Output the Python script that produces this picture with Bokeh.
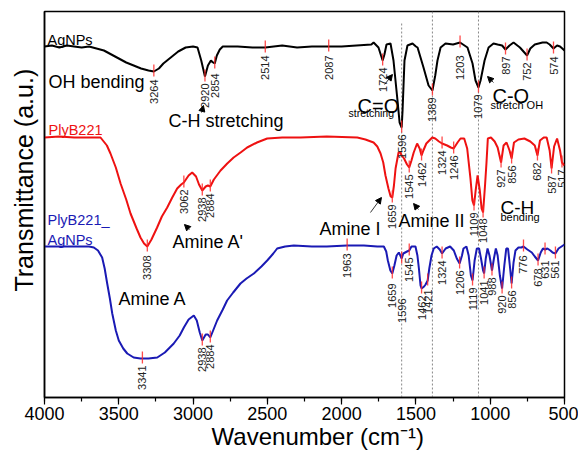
import numpy as np
from math import pi
from bokeh.plotting import figure
from bokeh.models import Range1d, SingleIntervalTicker, FixedTicker, Arrow, NormalHead, ColumnDataSource
from bokeh.core.properties import value
from bokeh.embed import file_html
from bokeh.resources import INLINE

FONT = "Liberation Sans"

# ---------------- data (transmittance, arbitrary units, offset traces) ----------------
agnps_wn = [4000,3950,3900,3850,3800,3750,3700,3650,3600,3550,
            3500,3450,3400,3350,3300,3264,3230,3200,3150,3100,
            3050,3000,2970,2945,2920,2900,2880,2865,2854,2840,
            2820,2800,2700,2600,2514,2400,2300,2200,2087,2000,
            1900,1800,1785,1752,1735,1724,1712,1698,1671,1651,
            1624,1610,1596,1590,1577,1557,1523,1500,1489,1449,
            1415,1389,1370,1355,1334,1301,1250,1203,1153,1119,
            1099,1079,1065,1038,1011,978,950,920,897,870,
            843,800,770,752,730,700,648,620,600,574,
            550,530,500]
agnps_t = [351,352,350,352,351,350,351,349,347,343,
           339,335,332,329,327,326,329,334,340,346,
           350,351,350,337,321,332,337,335,334,342,
           348,351,351,350,350,352,350,351,351,351,
           352,353,355,350,342,337,343,353,354,337,
           297,275,270,287,337,352,354,351,350,330,
           312,307,322,337,350,354,353,355,350,334,
           317,310,317,337,350,354,353,352,348,352,
           355,350,345,342,349,353,355,355,353,349,
           352,351,347]

ply_wn = [4000,3900,3800,3700,3623,3580,3556,3520,3488,3450,
          3421,3380,3354,3330,3308,3280,3242,3210,3174,3140,
          3107,3080,3062,3030,3006,2980,2960,2938,2915,2900,
          2884,2860,2815,2770,2727,2680,2636,2570,2501,2400,
          2277,2100,1895,1840,1785,1760,1738,1720,1705,1685,
          1670,1659,1648,1637,1617,1605,1596,1580,1560,1545,
          1530,1515,1492,1475,1462,1450,1430,1390,1370,1345,
          1324,1290,1265,1246,1220,1200,1175,1155,1133,1120,
          1109,1098,1085,1070,1058,1048,1035,1025,1016,995,
          970,950,927,910,890,870,856,840,810,770,
          730,700,682,665,640,620,600,587,570,550,
          530,517,500]
ply_t = [260,261,260,260,260,252,244,230,214,198,
         184,169,160,154,151,158,170,181,190,200,
         209,213,215,222,225,221,213,207,211,212,
         211,218,227,234,240,245,250,255,259,260,
         260,261,260,258,255,251,244,235,222,209,
         201,200,212,229,245,245,242,239,233,230,
         237,245,254,249,242,247,254,260,259,256,
         254,252,250,249,255,259,259,249,219,197,
         192,207,222,207,189,185,212,235,259,260,
         256,250,235,252,255,247,239,255,258,259,
         256,252,242,257,260,260,247,229,251,259,
         247,235,232]

plyag_wn = [4000,3900,3800,3700,3668,3640,3612,3595,3578,3560,
            3544,3520,3500,3470,3443,3400,3354,3341,3300,3241,
            3190,3130,3090,3062,3030,2995,2975,2955,2938,2915,
            2900,2884,2865,2838,2800,2771,2730,2681,2640,2591,
            2540,2501,2460,2434,2380,2322,2200,2100,1963,1850,
            1760,1716,1700,1689,1672,1659,1645,1630,1615,1605,
            1596,1585,1560,1545,1530,1503,1490,1480,1469,1462,
            1445,1435,1421,1410,1395,1380,1360,1340,1324,1300,
            1270,1245,1225,1206,1190,1180,1160,1145,1130,1119,
            1105,1090,1075,1062,1048,1041,1030,1018,1005,988,
            975,962,950,935,920,905,892,880,868,856,
            843,830,810,790,776,750,720,700,678,660,
            645,631,615,595,580,561,540,520,500]
plyag_t = [151,151,151,151,150,147,140,129,114,99,
           84,67,57,49,44,40,39,39,39,40,
           45,54,62,70,78,82,77,65,57,63,
           63,60,67,77,88,97,105,114,119,124,
           131,137,144,149,151,152,151,151,152,152,
           151,151,146,137,127,124,132,142,145,142,
           139,144,146,147,151,151,142,129,112,109,
           111,113,117,129,142,149,151,148,144,149,
           151,147,139,134,142,149,151,142,122,117,
           137,149,149,139,127,124,139,149,142,127,
           139,149,142,122,109,132,149,149,132,114,
           135,147,150,150,151,148,145,141,137,145,
           149,148,149,147,145,144,149,151,153]

# peak positions (cm-1) and where each peak's label ends (a.u.)
agnps_peaks = [3264,2920,2854,2514,2087,1724,1596,1389,1203,1079,897,752,574]
agnps_label_end = [318,314,324,342,342,330,263,300,342,303,341,335,341]
ply_peaks = [3308,3062,2938,2884,1659,1545,1462,1324,1246,1109,1048,927,856,682,587,517]
ply_label_end = [142,208,200,204,193,223,235,247,242,185,179,228,232,235,222,228]
plyag_peaks = [3341,2938,2884,1963,1659,1596,1545,1462,1421,1324,1206,1119,1041,988,920,856,776,678,631,561]
plyag_label_end = [32,50,53,144,114,99,140,102,108,137,127,110,117,120,102,107,142,129,137,137]

ref_lines_wn = [1596, 1389, 1079]
ref_lines_top = [374, 386, 386]

# band annotations
note_text = ["AgNPs", "OH bending", "C-H stretching", "C=O", "stretching", "C-O", "stretch OH",
             "PlyB221", "PlyB221_", "AgNPs", "Amine A'", "Amine A", "Amine I", "Amine II",
             "C-H", "bending"]
note_wn = [3980, 3973, 3165, 1893, 1954, 985, 998, 3973, 3980, 3980, 3138, 3502, 2149, 1617, 931, 931]
note_y = [358, 316, 277, 292, 285, 302, 293, 268, 178, 158, 156, 99, 169, 177, 190, 181]
note_size = ["14.5px", "18px", "18px", "20px", "10.5px", "20px", "11px", "14.5px", "14.5px", "14.5px",
             "18px", "18px", "18px", "18px", "19px", "11px"]
note_color = ["black", "black", "black", "black", "black", "black", "black", "#ee1111", "#1a1ab4", "#1a1ab4",
              "black", "black", "black", "black", "black", "black"]

# arrows: (x_start, y_start, x_end, y_end)
arrows = [(1711, 313, 1658, 323), (978, 315, 1018, 321), (3024, 168, 3058, 173),
          (1806, 185, 1732, 200), (1483, 188, 1516, 194), (2943, 285, 2930, 292)]

NBSP = "\u00a0"

# ---------------- figure ----------------
p = figure(width=578, height=454, x_range=Range1d(4000, 500), y_range=Range1d(0, 386),
           output_backend="svg", toolbar_location=None,
           min_border_left=44, min_border_right=14, min_border_top=11, min_border_bottom=57)
p.background_fill_color = "white"
p.border_fill_color = "white"
p.outline_line_color = "black"
p.outline_line_width = 1.5
p.outline_line_alpha = 1.0
p.grid.visible = False

xa = p.xaxis[0]
xa.ticker = SingleIntervalTicker(interval=500, num_minor_ticks=2)
xa.axis_line_width = 1.5
xa.axis_line_color = "black"
xa.major_tick_in = 0
xa.major_tick_out = 7
xa.minor_tick_in = 0
xa.minor_tick_out = 4
xa.major_tick_line_width = 1.2
xa.minor_tick_line_width = 1.2
xa.major_label_text_font = FONT
xa.major_label_text_font_size = "18px"
xa.major_label_text_color = "black"
xa.major_label_standoff = 2
xa.axis_label = NBSP * 4 + "Wavenumber (cm\u207b\u00b9)"
xa.axis_label_text_font = FONT
xa.axis_label_text_font_size = "24px"
xa.axis_label_text_font_style = "normal"
xa.axis_label_text_color = "black"
xa.axis_label_standoff = 0

ya = p.yaxis[0]
ya.ticker = FixedTicker(ticks=[])
ya.major_tick_line_color = None
ya.minor_tick_line_color = None
ya.major_label_text_font_size = "0px"
ya.axis_line_color = "black"
ya.axis_line_width = 1.5
ya.axis_label = NBSP * 7 + "Transmittance (a.u.)"
ya.axis_label_text_font = FONT
ya.axis_label_text_font_size = "25px"
ya.axis_label_text_font_style = "normal"
ya.axis_label_text_color = "black"
ya.axis_label_standoff = 7

# reference dotted lines
p.segment(x0=ref_lines_wn, y0=[0] * len(ref_lines_wn), x1=ref_lines_wn, y1=ref_lines_top,
          line_color="#888888", line_width=1, line_dash="2 2")

series = [
    (agnps_wn, agnps_t, "black", agnps_peaks, agnps_label_end),
    (ply_wn, ply_t, "#ee1111", ply_peaks, ply_label_end),
    (plyag_wn, plyag_t, "#1a1ab4", plyag_peaks, plyag_label_end),
]

for wn, t, col, peaks, lab_end in series:
    p.line(wn, t, line_color=col, line_width=2)

for wn, t, col, peaks, lab_end in series:
    xs = np.array(wn[::-1], dtype=float)
    ys = np.array(t[::-1], dtype=float)
    at_peak = np.interp(peaks, xs, ys)
    p.segment(x0=peaks, y0=at_peak - 5, x1=peaks, y1=at_peak + 7,
              line_color="#ff2a2a", line_width=1.3, line_alpha=0.85)
    p.text(x=peaks, y=lab_end, text=[str(v) for v in peaks], angle=pi / 2,
           text_align="right", text_baseline="middle",
           text_font=value(FONT), text_font_size="11px", text_color="#222222")

notes = ColumnDataSource(dict(x=note_wn, y=note_y, text=note_text, size=note_size, color=note_color))
p.text(x="x", y="y", text="text", source=notes, text_font=value(FONT),
       text_font_size="size", text_color="color", text_align="left", text_baseline="alphabetic")

for xs0, ys0, xe, ye in arrows:
    p.add_layout(Arrow(end=NormalHead(size=6, fill_color="black", line_color="black", line_width=1),
                       x_start=xs0, y_start=ys0, x_end=xe, y_end=ye,
                       line_color="black", line_width=0.8))

open("out.html", "w").write(file_html(p, INLINE))
